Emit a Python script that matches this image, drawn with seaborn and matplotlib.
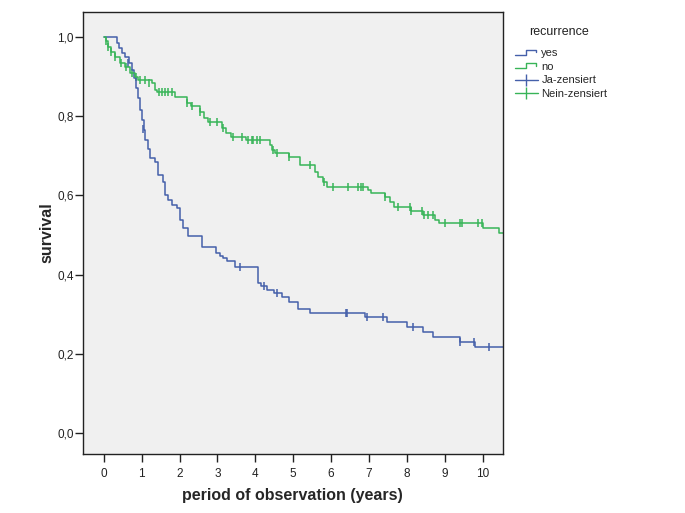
import matplotlib
matplotlib.use("Agg")
import matplotlib.pyplot as plt
import seaborn as sns
import pandas as pd
from matplotlib.lines import Line2D
from matplotlib.legend_handler import HandlerBase

# Kaplan-Meier steps: time (years) and survival after the step
yes_time = [0.0, 0.34, 0.40, 0.48, 0.56, 0.66, 0.74, 0.80, 0.85, 0.90, 0.95, 1.00,
            1.05, 1.10, 1.16, 1.22, 1.35, 1.43, 1.56, 1.61, 1.70, 1.79, 1.93, 2.00,
            2.08, 2.22, 2.59, 2.96, 3.06, 3.15, 3.25, 3.46, 4.06, 4.15, 4.30, 4.50,
            4.70, 4.90, 5.12, 5.43, 6.90, 7.47, 8.00, 8.42, 8.68, 9.39, 9.79, 10.6]
yes_surv = [1.0, 0.985, 0.972, 0.960, 0.948, 0.934, 0.915, 0.896, 0.870, 0.845, 0.815, 0.790,
            0.765, 0.740, 0.717, 0.695, 0.684, 0.652, 0.634, 0.601, 0.588, 0.576, 0.568, 0.538,
            0.518, 0.497, 0.470, 0.455, 0.447, 0.441, 0.435, 0.420, 0.379, 0.371, 0.362, 0.354,
            0.343, 0.331, 0.313, 0.303, 0.293, 0.280, 0.268, 0.255, 0.242, 0.230, 0.217, 0.217]
yes_cens_time = [0.63, 1.03, 3.59, 4.22, 4.56, 6.40, 6.43, 6.94, 7.36, 8.15, 9.39, 9.76, 10.16]
yes_cens_surv = [0.934, 0.768, 0.420, 0.371, 0.354, 0.303, 0.303, 0.293, 0.293, 0.268, 0.230, 0.230, 0.217]

no_time = [0.0, 0.05, 0.12, 0.20, 0.30, 0.42, 0.55, 0.70, 0.82, 0.90, 1.27, 1.35, 1.40,
           1.87, 2.19, 2.30, 2.53, 2.65, 2.74, 3.11, 3.22, 3.35, 3.75, 4.38, 4.44, 4.52,
           4.88, 5.17, 5.57, 5.65, 5.78, 5.90, 6.97, 7.05, 7.42, 7.55, 7.65, 8.10, 8.42,
           8.75, 8.85, 10.0, 10.42, 10.6]
no_surv = [1.0, 0.990, 0.975, 0.962, 0.949, 0.934, 0.924, 0.909, 0.899, 0.890, 0.884, 0.866, 0.861,
           0.848, 0.833, 0.825, 0.810, 0.795, 0.785, 0.770, 0.758, 0.747, 0.740, 0.727, 0.715, 0.707,
           0.697, 0.677, 0.659, 0.646, 0.634, 0.621, 0.614, 0.606, 0.596, 0.583, 0.571, 0.561, 0.550,
           0.538, 0.530, 0.518, 0.505, 0.505]
no_cens_time = [0.05, 0.12, 0.20, 0.30, 0.45, 0.60, 0.75, 0.85, 0.95, 1.10, 1.20, 1.45, 1.53,
                1.61, 1.69, 1.80, 2.20, 2.33, 2.53, 2.80, 3.00, 3.15, 3.40, 3.64, 3.80, 3.90,
                3.95, 4.04, 4.12, 4.46, 4.56, 4.90, 5.43, 5.80, 6.04, 6.44, 6.70, 6.78, 6.84,
                7.41, 7.76, 8.07, 8.12, 8.39, 8.45, 8.55, 8.68, 9.00, 9.39, 9.45, 9.87, 9.97]
no_cens_surv = [0.990, 0.975, 0.962, 0.949, 0.934, 0.924, 0.909, 0.899, 0.890, 0.890, 0.884, 0.861, 0.861,
                0.861, 0.861, 0.861, 0.833, 0.825, 0.810, 0.785, 0.785, 0.770, 0.747, 0.747, 0.740, 0.740,
                0.740, 0.740, 0.740, 0.715, 0.707, 0.697, 0.677, 0.634, 0.621, 0.621, 0.621, 0.621, 0.621,
                0.596, 0.571, 0.571, 0.561, 0.561, 0.550, 0.550, 0.550, 0.530, 0.530, 0.530, 0.530, 0.530]

x_ticks = list(range(0, 11))
y_ticks = [0.0, 0.2, 0.4, 0.6, 0.8, 1.0]
y_tick_labels = ["0,0", "0,2", "0,4", "0,6", "0,8", "1,0"]
legend_title = "recurrence"
legend_labels = ["yes", "no", "Ja-zensiert", "Nein-zensiert"]

BLUE = "#4560aa"
GREEN = "#38b458"
INK = "#222222"


class StepHandler(HandlerBase):
    """Draws a small step shape as the legend icon, like SPSS does."""

    def create_artists(self, legend, orig_handle, xdescent, ydescent,
                       width, height, fontsize, trans):
        x0, y0 = -xdescent, -ydescent
        xs = [x0, x0 + 0.5 * width, x0 + 0.5 * width, x0 + 0.95 * width, x0 + 0.95 * width]
        ys = [y0 + 0.2 * height, y0 + 0.2 * height, y0 + 0.85 * height,
              y0 + 0.85 * height, y0 + 0.55 * height]
        line = Line2D(xs, ys, color=orig_handle.get_color(), lw=1.0, transform=trans)
        return [line]


sns.set_style("white")
plt.rcParams["font.family"] = ["Liberation Sans", "DejaVu Sans"]

fig = plt.figure(figsize=(6.85, 5.13), dpi=100)
ax = fig.add_axes([0.121, 0.115, 0.613, 0.862])
ax.set_facecolor("#f0f0f0")

yes_df = pd.DataFrame({"t": yes_time, "s": yes_surv})
no_df = pd.DataFrame({"t": no_time, "s": no_surv})
sns.lineplot(data=yes_df, x="t", y="s", ax=ax, color=BLUE, lw=1.1,
             drawstyle="steps-post", estimator=None, sort=False)
sns.lineplot(data=no_df, x="t", y="s", ax=ax, color=GREEN, lw=1.1,
             drawstyle="steps-post", estimator=None, sort=False)

sns.scatterplot(x=yes_cens_time, y=yes_cens_surv, ax=ax, marker="|", s=36,
                color=BLUE, linewidth=1.1)
sns.scatterplot(x=no_cens_time, y=no_cens_surv, ax=ax, marker="|", s=36,
                color=GREEN, linewidth=1.1)

ax.set_xlim(-0.55, 10.53)
ax.set_ylim(-0.053, 1.063)
ax.set_xticks(x_ticks)
ax.set_yticks(y_ticks)
ax.set_yticklabels(y_tick_labels)
ax.tick_params(axis="both", direction="out", length=6, width=1, color=INK,
               labelsize=8.5, labelcolor=INK, left=True, bottom=True)
ax.tick_params(axis="x", pad=4)
ax.tick_params(axis="y", pad=0.5)
for side in ["bottom", "top", "left", "right"]:
    ax.spines[side].set_color(INK)
    ax.spines[side].set_linewidth(1)

ax.set_xlabel("period of observation (years)", fontsize=11.5, fontweight="bold", labelpad=5.5)
ax.set_ylabel("survival", fontsize=11.5, fontweight="bold", labelpad=2)

handles = [
    Line2D([], [], color=BLUE, lw=1.0),
    Line2D([], [], color=GREEN, lw=1.0),
    Line2D([], [], color=BLUE, lw=1.0, marker="|", markersize=9),
    Line2D([], [], color=GREEN, lw=1.0, marker="|", markersize=9),
]
fig.text(559 / 685, 1 - 32 / 513, legend_title, ha="center", va="center",
         fontsize=9, color=INK)
fig.legend(handles, legend_labels, loc="upper left",
           bbox_to_anchor=(512 / 685, 1 - 45 / 513), frameon=False, fontsize=8,
           handlelength=2.0, handletextpad=0.35, labelspacing=0.32,
           borderpad=0.3, borderaxespad=0,
           handler_map={handles[0]: StepHandler(), handles[1]: StepHandler()})

fig.savefig("out.png", dpi=100)
